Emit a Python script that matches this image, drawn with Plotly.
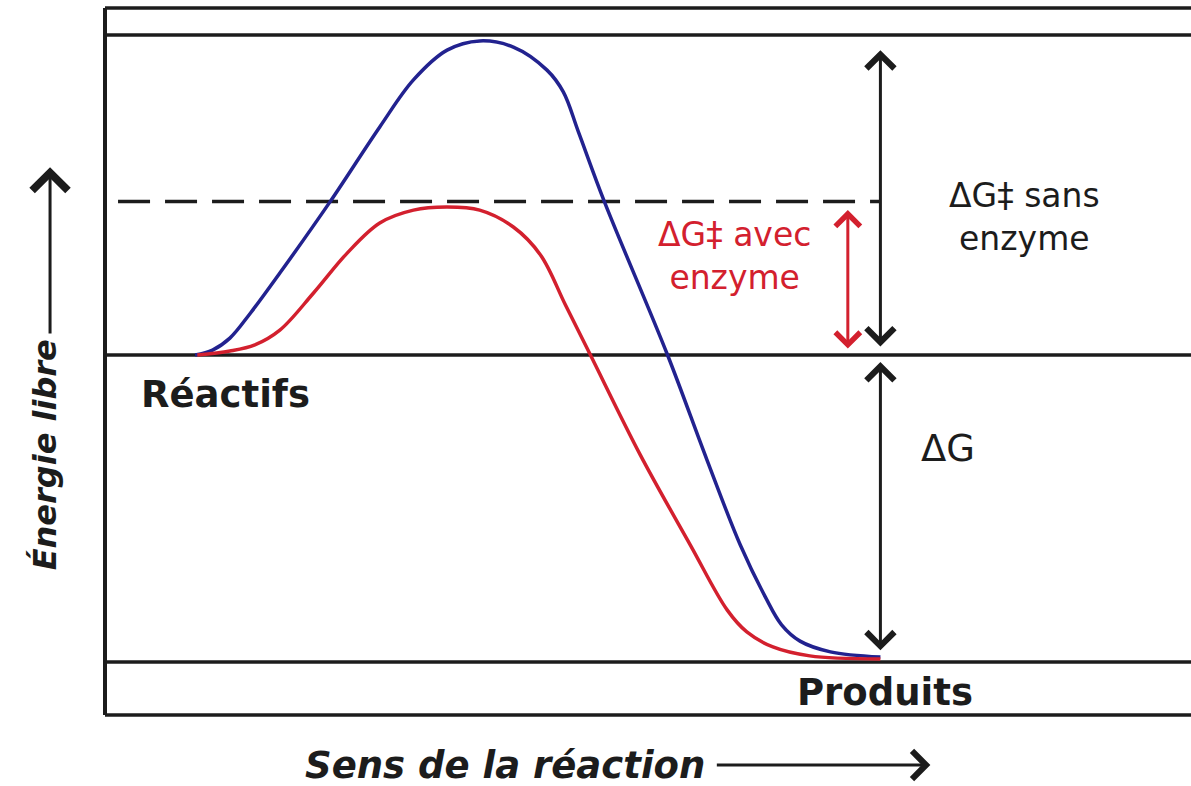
import plotly.graph_objects as go

# --- données (x: sens de la réaction, y: énergie libre) ---
x_sans_enzyme = [8.3, 9.9, 11.5, 13.4, 16.1, 20.7, 25.3, 28.4, 31.5, 34.5, 37.6, 40.7,
                 42.2, 43.6, 46.0, 51.8, 55.4, 58.5, 60.8, 62.3, 64.0, 66.8, 71.4]
g_sans_enzyme = [100, 101.6, 105.5, 113.7, 126.7, 149.8, 174.3, 189.6, 199.3, 202.3, 200.3, 192.8,
                 185.7, 172.6, 149.8, 100.0, 66.1, 38.1, 21.2, 12.1, 6.8, 3.3, 1.6]

x_avec_enzyme = [8.5, 11.5, 13.8, 16.1, 19.2, 22.3, 25.3, 28.4, 31.5, 34.5, 37.6, 40.1,
                 42.4, 44.7, 49.3, 53.9, 57.3, 59.1, 61.5, 64.9, 71.4]
g_avec_enzyme = [100, 101.3, 103.3, 108.1, 120.2, 133.2, 143.0, 147.2, 148.2, 147.2, 141.7, 132.6,
                 116.3, 100.0, 67.4, 38.1, 16.9, 9.8, 4.9, 2.0, 1.0]

g_reactifs = 100
g_produits = 0
g_etat_transition_enzyme = 150
g_haut = 204.2
cadre_y = [-17.3, 213.0]
cadre_x = [0, 100]

x_fleche_noire = 71.4
x_fleche_rouge = 68.4

BLEU = '#22228f'
ROUGE = '#d3202e'
NOIR = '#1c1c1c'
POLICE = 'DejaVu Sans'

fig = go.Figure()

# cadre et niveaux horizontaux
for y in [cadre_y[1], g_haut, g_reactifs, g_produits, cadre_y[0]]:
    fig.add_trace(go.Scatter(x=cadre_x, y=[y, y], mode='lines',
                             line=dict(color=NOIR, width=3.5), hoverinfo='skip'))
fig.add_trace(go.Scatter(x=[0, 0], y=cadre_y, mode='lines',
                         line=dict(color=NOIR, width=4), hoverinfo='skip'))

# niveau de l'état de transition avec enzyme (tirets)
fig.add_trace(go.Scatter(x=[1.2, x_fleche_noire], y=[g_etat_transition_enzyme] * 2, mode='lines',
                         line=dict(color=NOIR, width=3.5, dash='32px,15px'), hoverinfo='skip'))

# courbes
fig.add_trace(go.Scatter(x=x_sans_enzyme, y=g_sans_enzyme, mode='lines',
                         line=dict(color=BLEU, width=3.5, shape='spline', smoothing=1.0),
                         name='sans enzyme'))
fig.add_trace(go.Scatter(x=x_avec_enzyme, y=g_avec_enzyme, mode='lines',
                         line=dict(color=ROUGE, width=3.5, shape='spline', smoothing=1.0),
                         name='avec enzyme'))


def double_fleche(x, y0, y1, couleur, taille):
    fig.add_annotation(x=x, y=y1, ax=x, ay=y0, xref='x', yref='y', axref='x', ayref='y',
                       text='', showarrow=True, arrowside='end+start',
                       arrowhead=4, startarrowhead=4, arrowsize=taille, startarrowsize=taille,
                       arrowwidth=3, arrowcolor=couleur, standoff=0, startstandoff=0)


double_fleche(x_fleche_noire, 102.3, 199.3, NOIR, 1.8)
double_fleche(x_fleche_noire, 3.3, 97.7, NOIR, 1.8)
double_fleche(x_fleche_rouge, 101.6, 147.2, ROUGE, 1.6)

# flèches des axes
fig.add_annotation(x=-5.06, y=161.2, ax=-5.06, ay=106.5, xref='x', yref='y', axref='x', ayref='y',
                   text='', showarrow=True, arrowhead=4, arrowsize=2.3, arrowwidth=3,
                   arrowcolor=NOIR, standoff=0)
fig.add_annotation(x=76.0, y=-33.55, ax=56.2, ay=-33.55, xref='x', yref='y', axref='x', ayref='y',
                   text='', showarrow=True, arrowhead=4, arrowsize=1.8, arrowwidth=3,
                   arrowcolor=NOIR, standoff=0)


def texte(x, y, t, taille, couleur=NOIR, angle=0):
    fig.add_annotation(x=x, y=y, xref='x', yref='y', text=t, showarrow=False,
                       textangle=angle, font=dict(family=POLICE, size=taille, color=couleur))


texte(-5.5, 67.4, '<b><i>Énergie libre</i></b>', 32, angle=-90)
texte(36.8, -33.6, '<b><i>Sens de la réaction</i></b>', 37)
texte(11.1, 87.0, '<b>Réactifs</b>', 37)
texte(71.8, -9.8, '<b>Produits</b>', 37)
texte(77.6, 69.7, 'ΔG', 37)
texte(84.7, 145.0, 'ΔG‡ sans<br>enzyme', 33)
texte(58.0, 132.2, 'ΔG‡ avec<br>enzyme', 33, ROUGE)

fig.update_layout(
    width=1191, height=786,
    margin=dict(l=0, r=0, t=0, b=0),
    plot_bgcolor='white', paper_bgcolor='white',
    showlegend=False,
    xaxis=dict(range=[-9.669, 100.0], visible=False, fixedrange=True),
    yaxis=dict(range=[-40.39, 215.64], visible=False, fixedrange=True),
)

fig.write_html("out.html", config={'displayModeBar': False},
               post_script="document.body.style.margin='0';")
